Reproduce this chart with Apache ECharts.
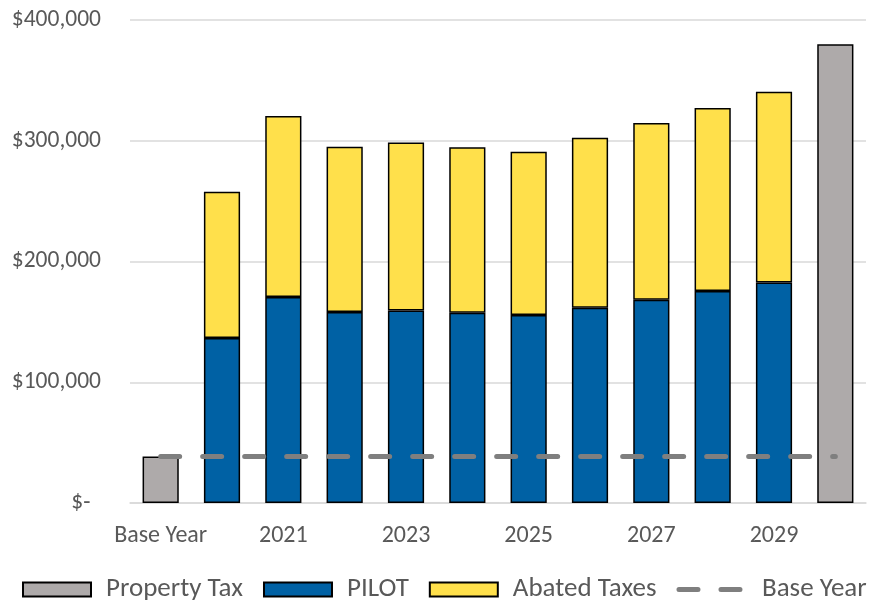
<!DOCTYPE html>
<html>
<head>
<meta charset="utf-8">
<script src="https://cdn.jsdelivr.net/npm/echarts@6/dist/echarts.min.js"></script>
<style>
html,body{margin:0;padding:0;background:#fff;}
#chart{width:873px;height:600px;}
</style>
</head>
<body>
<div id="chart"></div>
<script>
const categories = ['Base Year','2020','2021','2022','2023','2024','2025','2026','2027','2028','2029','2030'];
const propertyTax = [38500, null, null, null, null, null, null, null, null, null, null, 380000];
const pilot = [null, 136600, 170500, 158100, 159500, 157500, 155600, 161700, 168300, 175500, 182700, null];
const abatedTaxes = [null, 121100, 149900, 136900, 139100, 137200, 135200, 140700, 146500, 151700, 157800, null];
const baseYear = [38500, 38500, 38500, 38500, 38500, 38500, 38500, 38500, 38500, 38500, 38500, 38500];
const yTicks = [0, 100000, 200000, 300000, 400000];

const FONT = "Carlito, 'Liberation Sans Narrow', 'Liberation Sans', sans-serif";
const TXT = '#595959';
const chart = echarts.init(document.getElementById('chart'), null, {renderer:'canvas'});
const barBorder = {borderColor:'#000', borderWidth:1.5};
chart.setOption({
  animation:false,
  grid:{left:130, right:7, top:20, bottom:97, containLabel:false},
  legend:{
    top:576, left:22, right:0, padding:0, itemWidth:68, itemHeight:14, itemGap:20,
    textStyle:{fontFamily:FONT, fontSize:27, color:TXT, padding:[0,0,0,10]},
    data:[
      {name:'Property Tax', icon:'rect'},
      {name:'PILOT', icon:'rect'},
      {name:'Abated Taxes', icon:'rect'},
      {name:'Base Year', itemStyle:{opacity:0}, lineStyle:{width:5, color:'#7F7F7F', type:[19,23], cap:'round'}}
    ]
  },
  xAxis:{
    type:'category', data:categories,
    axisLine:{show:true, lineStyle:{color:'#D9D9D9', width:1.5}},
    axisTick:{show:false},
    axisLabel:{interval:1, fontFamily:FONT, fontSize:24, color:TXT, margin:21}
  },
  yAxis:{
    type:'value', min:yTicks[0], max:yTicks[yTicks.length-1], interval:100000,
    axisLine:{show:false}, axisTick:{show:false},
    splitLine:{lineStyle:{color:'#D9D9D9', width:1.5}},
    axisLabel:{fontFamily:FONT, fontSize:23.5, color:TXT, margin:29,
      formatter:function(v){ return v===0 ? '$-  ' : '$' + v.toLocaleString('en-US'); }}
  },
  series:[
    {name:'Property Tax', type:'bar', stack:'t', data:propertyTax, barWidth:'59%',
      itemStyle:Object.assign({color:'#AEAAAA'}, barBorder)},
    {name:'PILOT', type:'bar', stack:'t', data:pilot, barWidth:'59%',
      itemStyle:Object.assign({color:'#0061A4'}, barBorder)},
    {name:'Abated Taxes', type:'bar', stack:'t', data:abatedTaxes, barWidth:'59%',
      itemStyle:Object.assign({color:'#FFE04B'}, barBorder)},
    {name:'Base Year', type:'line', data:baseYear, symbol:'none', z:5,
      itemStyle:{color:'#7F7F7F'},
      lineStyle:{color:'#7F7F7F', width:5, type:[19,23], cap:'round'}}
  ]
});
</script>
</body>
</html>
